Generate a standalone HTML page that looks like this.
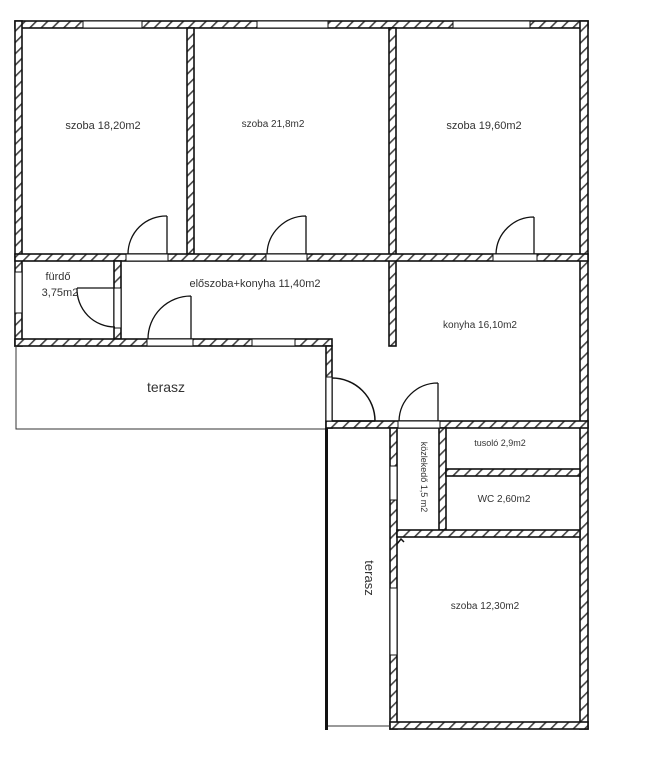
<!DOCTYPE html>
<html><head><meta charset="utf-8"><style>
html,body{margin:0;padding:0;background:#fff;}
svg{display:block;}
text{font-family:"Liberation Sans",sans-serif;fill:#333;}
</style></head><body>
<svg width="649" height="768" viewBox="0 0 649 768" xmlns="http://www.w3.org/2000/svg">
<defs>
<pattern id="h" width="8" height="8" patternUnits="userSpaceOnUse" patternTransform="rotate(45)">
<rect width="8" height="8" fill="#fff"/><rect width="1.6" height="8" fill="#444"/>
</pattern>
</defs>
<g stroke="#111" stroke-width="1.6" fill="url(#h)">
<rect x="15" y="21" width="573" height="7"/>
<rect x="15" y="21" width="7" height="325"/>
<rect x="580" y="21" width="8" height="708"/>
<rect x="187" y="28" width="7" height="226"/>
<rect x="389" y="28" width="7" height="318"/>
<rect x="15" y="254" width="573" height="7"/>
<rect x="114" y="261" width="7" height="78"/>
<rect x="15" y="339" width="317" height="7"/>
<rect x="326" y="346" width="6" height="82"/>
<rect x="326" y="421" width="262" height="7"/>
<rect x="390" y="428" width="7" height="301"/>
<rect x="439" y="428" width="7" height="102"/>
<rect x="446" y="469" width="134" height="7"/>
<rect x="397" y="530" width="183" height="7"/>
<rect x="390" y="722" width="198" height="7"/>
</g>
<g fill="#fff" stroke="#111" stroke-width="1">
<rect x="83" y="21" width="59" height="7"/>
<rect x="257" y="21" width="71" height="7"/>
<rect x="453" y="21" width="77" height="7"/>
<rect x="15" y="272" width="7" height="41"/>
<rect x="252" y="339" width="43" height="7"/>
<rect x="390" y="466" width="7" height="34"/>
<rect x="390" y="588" width="7" height="67"/>
<rect x="126" y="254" width="42" height="7"/>
<rect x="266" y="254" width="41" height="7"/>
<rect x="493" y="254" width="44" height="7"/>
<rect x="147" y="339" width="46" height="7"/>
<rect x="114" y="288" width="7" height="40"/>
<rect x="326" y="377" width="6" height="44"/>
<rect x="398" y="421" width="42" height="7"/>
</g>
<g fill="none" stroke="#111" stroke-width="1.3">
<path d="M167 254 V216 M167 216 A38 38 0 0 0 128 254"/>
<path d="M306 254 V216 M306 216 A39 39 0 0 0 267 254"/>
<path d="M534 254 V217 M534 217 A38 38 0 0 0 496 254"/>
<path d="M191 339 V296 M191 296 A43 43 0 0 0 148 339"/>
<path d="M115 288 H77 M77 288 A38 38 0 0 0 115 327"/>
<path d="M332 421 H375 M332 378 A43 43 0 0 1 375 421" stroke-width="1.5"/>
<path d="M438 421 V383 M438 383 A39 39 0 0 0 399 421"/>
</g>
<g fill="none" stroke="#333" stroke-width="1">
<path d="M16 346 V429 H326"/>
<path d="M327 726 H390"/>
</g>
<rect x="325" y="428" width="3" height="302" fill="#111"/>
<path d="M397 544 l4 -5 l3 3" fill="none" stroke="#111" stroke-width="1.5"/>
<text x="103" y="129" font-size="11" text-anchor="middle">szoba 18,20m2</text>
<text x="273" y="127" font-size="10" text-anchor="middle">szoba 21,8m2</text>
<text x="484" y="129" font-size="11" text-anchor="middle">szoba 19,60m2</text>
<text x="58" y="280" font-size="11" text-anchor="middle">fürdő</text>
<text x="60" y="296" font-size="11" text-anchor="middle">3,75m2</text>
<text x="255" y="287" font-size="11" text-anchor="middle">előszoba+konyha 11,40m2</text>
<text x="480" y="328" font-size="10" text-anchor="middle">konyha 16,10m2</text>
<text x="166" y="392" font-size="14" text-anchor="middle">terasz</text>
<text x="500" y="446" font-size="9" text-anchor="middle">tusoló 2,9m2</text>
<text x="504" y="502" font-size="10" text-anchor="middle">WC 2,60m2</text>
<text x="485" y="609" font-size="10" text-anchor="middle">szoba 12,30m2</text>
<text transform="translate(421,477) rotate(90)" font-size="9" text-anchor="middle">közlekedő 1,5 m2</text>
<text transform="translate(365,578) rotate(90)" font-size="13" text-anchor="middle">terasz</text>
</svg>
</body></html>
